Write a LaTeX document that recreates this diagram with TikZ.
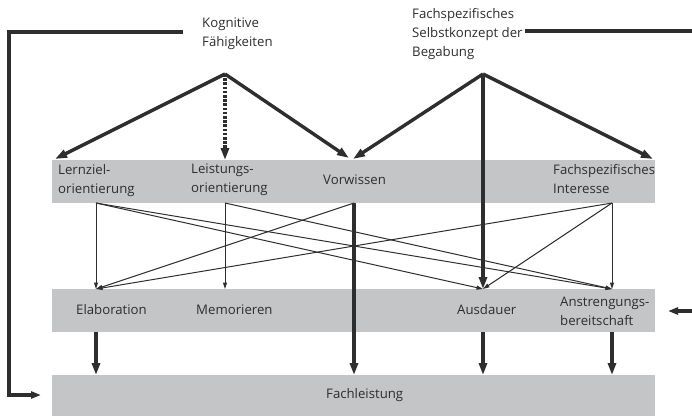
\documentclass[tikz,border=0pt]{standalone}
\usepackage{fontspec}
\setmainfont{Open Sans}
\usetikzlibrary{arrows.meta}
\definecolor{ink}{HTML}{2E2E2E}
\definecolor{bandgray}{HTML}{C4C5C7}
\begin{document}
\begin{tikzpicture}[x=1pt,y=-1pt,
  lbl/.style={anchor=west, align=left, inner sep=0pt, text=ink,
    font=\fontsize{13.2}{19}\selectfont},
  heavy/.style={draw=ink, line width=3.4pt, -{Triangle[length=12pt,width=8pt]}},
  heavydash/.style={heavy, dash pattern=on 2.6pt off 1.6pt},
  light/.style={draw=ink, line width=1pt, -{Triangle[length=6.5pt,width=4pt]}},
  feedback/.style={draw=ink, line width=3.4pt},
]
\useasboundingbox (0,0) rectangle (692,416);

% grey bands
\fill[bandgray] (52,160) rectangle (655,203);
\fill[bandgray] (52,289) rectangle (655,332);
\fill[bandgray] (52,375) rectangle (655,416);

% labels
\node[lbl] (kog) at (202,33.5) {Kognitive\\Fähigkeiten};
\node[lbl] (sk) at (412,34) {Fachspezifisches\\Selbstkonzept der\\Begabung};
\node[lbl] (lz) at (58,180.5) {Lernziel-\\orientierung};
\node[lbl] (lo) at (191,179.5) {Leistungs-\\orientierung};
\node[lbl] (vw) at (323,180) {Vorwissen};
\node[lbl] (fi) at (553,179.5) {Fachspezifisches\\Interesse};
\node[lbl] (el) at (76,310) {Elaboration};
\node[lbl] (me) at (196,310) {Memorieren};
\node[lbl] (au) at (457,310) {Ausdauer};
\node[lbl] (an) at (560,311.5) {Anstrengungs-\\bereitschaft};
\node[lbl] (fl) at (326,395) {Fachleistung};

% connection points
\coordinate (kogA) at (225,74);
\coordinate (skA) at (483,74);
\coordinate (lzT) at (55,159);
\coordinate (loT) at (225,160);
\coordinate (vwTl) at (349,158);
\coordinate (vwTr) at (353,159);
\coordinate (fiT) at (653,159);
\coordinate (lzB) at (96,203);
\coordinate (loB) at (225,203);
\coordinate (vwB) at (354,203);
\coordinate (fiB) at (612,203);
\coordinate (elT) at (96,289);
\coordinate (meT) at (225,289);
\coordinate (auT) at (483,289);
\coordinate (anT) at (612,289);
\coordinate (elB) at (96,332);
\coordinate (auB) at (483,332);
\coordinate (anB) at (612,332);
\coordinate (flE) at (96,375);
\coordinate (flV) at (354,375);
\coordinate (flA) at (483,375);
\coordinate (flN) at (612,375);
\coordinate (flW) at (41,395);

% influences from the two top constructs
\draw[heavy] (kogA) -- (lzT);
\draw[heavydash] (kogA) -- (loT);
\draw[heavy] (kogA) -- (vwTl);
\draw[heavy] (skA) -- (vwTr);
\draw[heavy] (skA) -- (fiT);
\draw[heavy] (skA) -- (auT);

% motivation -> learning behaviour
\draw[light] (lzB) -- (elT);
\draw[light] (lzB) -- (auT);
\draw[light] (lzB) -- (anT);
\draw[light] (loB) -- (meT);
\draw[light] (loB) -- (anT);
\draw[light] (vwB) -- (elT);
\draw[light] (fiB) -- (elT);
\draw[light] (fiB) -- (auT);
\draw[light] (fiB) -- (anT);

% learning behaviour -> achievement
\draw[heavy] (vwB) -- (flV);
\draw[heavy] (elB) -- (flE);
\draw[heavy] (auB) -- (flA);
\draw[heavy] (anB) -- (flN);

% feedback paths
\draw[feedback, -{Triangle[length=10pt,width=7pt]}] (183,32) -- (9,32) -- (9,395) -- (flW);
\draw[feedback] (525,31) -- (692,31);
\draw[feedback, -{Triangle[length=10pt,width=7pt]}] (692,311) -- (668,311);
\end{tikzpicture}
\end{document}
